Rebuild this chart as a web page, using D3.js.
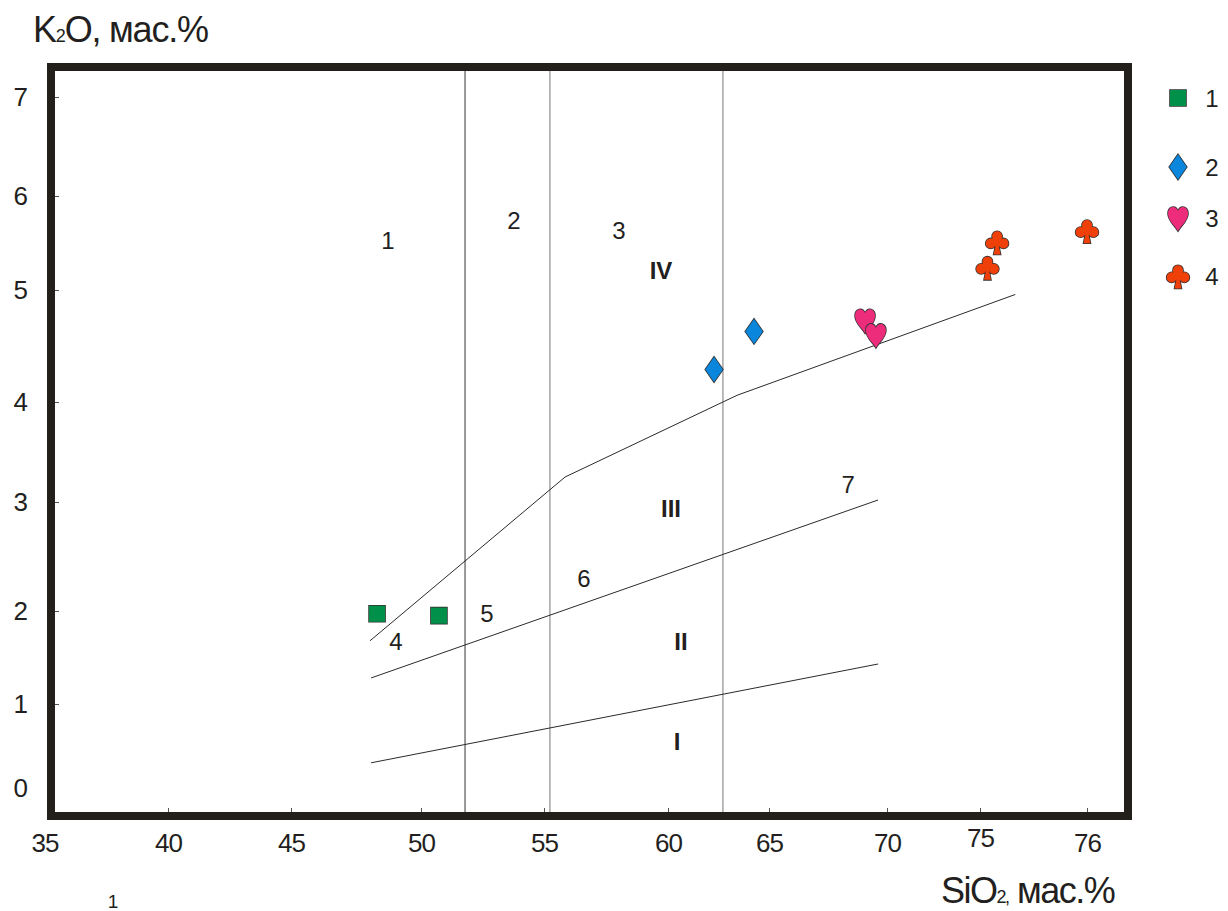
<!DOCTYPE html>
<html>
<head>
<meta charset="utf-8">
<script src="https://cdn.jsdelivr.net/npm/d3@7"></script>
<style>
  body { margin: 0; background: #fff; }
  text { font-family: "Liberation Sans Narrow", "Arial Narrow", "Liberation Sans", Arial, sans-serif; fill: #231f20; }
</style>
</head>
<body>
<div id="chart"></div>
<script>
// Axis ticks
const xTicks = [35, 40, 45, 50, 55, 60, 65, 70, 75, 76];
const yTicks = [0, 1, 2, 3, 4, 5, 6, 7];

// Samples (SiO2, K2O)
const seriesNames = ["1", "2", "3", "4"];
const squares = [[48.31, 1.97], [50.73, 1.95]];
const diamonds = [[62.28, 4.29], [64.26, 4.63]];
const hearts = [[69.07, 4.73], [69.53, 4.60]];
const clubs = [[75.07, 5.24], [75.16, 5.51], [76.0, 5.63]];

// Field boundaries
const verticals = [51.79, 55.24, 62.72];
const upperLine = [[48.04, 1.68], [55.85, 3.25], [63.42, 4.06], [75.33, 4.96]];
const middleLine = [[48.08, 1.28], [69.62, 3.02]];
const lowerLine = [[48.08, 0.30], [69.62, 1.43]];

// Field labels
const fieldNumbers = [["1", 48.73, 5.53], ["2", 53.78, 5.74], ["3", 58.02, 5.63],
  ["4", 49.04, 1.67], ["5", 52.68, 1.98], ["6", 56.61, 2.30], ["7", 68.35, 3.18]];
const fieldRoman = [["IV", 59.72, 5.21], ["III", 60.15, 2.94], ["II", 60.64, 1.67], ["I", 60.45, 0.55]];

const width = 1228, height = 911;
const frame = { left: 51, top: 67, right: 1128, bottom: 816, stroke: 8 };

const svg = d3.select("#chart")
  .append("svg")
  .attr("width", width)
  .attr("height", height);

// the printed axis is not evenly spaced, so use a piecewise scale
const x = d3.scaleLinear()
  .domain(xTicks)
  .range([44.5, 168, 291, 421, 544, 668, 769, 887, 980, 1087]);

const y = d3.scaleLinear()
  .domain(yTicks)
  .range([788, 704, 611, 502, 402, 290, 196, 97]);

const inTop = frame.top + frame.stroke / 2;
const inBottom = frame.bottom - frame.stroke / 2;

// vertical SiO2 boundaries
svg.selectAll(".vline")
  .data(verticals)
  .enter()
  .append("line")
  .attr("x1", d => x(d))
  .attr("x2", d => x(d))
  .attr("y1", inTop)
  .attr("y2", inBottom)
  .attr("stroke", (d, i) => i === 0 ? "#333" : "#777")
  .attr("stroke-width", 1);

// K2O series boundaries
const line = d3.line().x(d => x(d[0])).y(d => y(d[1]));
svg.selectAll(".bound")
  .data([upperLine, middleLine, lowerLine])
  .enter()
  .append("path")
  .attr("d", line)
  .attr("fill", "none")
  .attr("stroke", "#2a2a2a")
  .attr("stroke-width", 1);

// Axes with short inward ticks
const xAxis = svg.append("g")
  .attr("transform", `translate(0,${inBottom})`)
  .call(d3.axisBottom(x).tickValues(xTicks).tickSize(-4).tickFormat(d3.format("d")));
xAxis.select(".domain").remove();
xAxis.selectAll(".tick line").attr("stroke", "#555").filter(d => d === 35).remove();
xAxis.selectAll(".tick text")
  .attr("y", d => d === 75 ? 35 : 40)
  .attr("dy", null)
  .style("font-size", "26px")
  .style("letter-spacing", "-1px")
  .attr("fill", "#231f20");

const yAxis = svg.append("g")
  .attr("transform", `translate(${frame.left + frame.stroke / 2},0)`)
  .call(d3.axisLeft(y).tickValues(yTicks).tickSize(-4).tickFormat(d3.format("d")));
yAxis.select(".domain").remove();
yAxis.selectAll(".tick line").attr("stroke", "#555").filter(d => d === 0).remove();
yAxis.selectAll(".tick text")
  .attr("x", -27)
  .style("font-size", "26px")
  .attr("fill", "#231f20");

// Frame
svg.append("rect")
  .attr("x", frame.left)
  .attr("y", frame.top)
  .attr("width", frame.right - frame.left)
  .attr("height", frame.bottom - frame.top)
  .attr("fill", "none")
  .attr("stroke", "#231f1a")
  .attr("stroke-width", frame.stroke);

// Field labels
svg.selectAll(".fnum")
  .data(fieldNumbers)
  .enter()
  .append("text")
  .attr("x", d => x(d[1]))
  .attr("y", d => y(d[2]))
  .attr("dy", "0.36em")
  .attr("text-anchor", "middle")
  .style("font-size", "24px")
  .text(d => d[0]);

svg.selectAll(".from")
  .data(fieldRoman)
  .enter()
  .append("text")
  .attr("x", d => x(d[1]))
  .attr("y", d => y(d[2]))
  .attr("dy", "0.36em")
  .attr("text-anchor", "middle")
  .style("font-size", "24px")
  .style("font-weight", "bold")
  .text(d => d[0]);

// Custom marker shapes
const squareType = {
  draw(c, size) {
    const h = Math.sqrt(size) / 2;
    c.rect(-h, -h, 2 * h, 2 * h);
  }
};
const diamondType = {
  draw(c, size) {
    const h = Math.sqrt(size) / 2, w = h * 0.7;
    c.moveTo(0, -h); c.lineTo(w, 0); c.lineTo(0, h); c.lineTo(-w, 0); c.closePath();
  }
};
const heartType = {
  draw(c, size) {
    const sx = Math.sqrt(size) / 2, sy = sx * 1.3;
    c.moveTo(0, 1.0 * sy);
    c.bezierCurveTo(-0.3 * sx, 0.6 * sy, -1.0 * sx, 0.2 * sy, -1.0 * sx, -0.35 * sy);
    c.bezierCurveTo(-1.0 * sx, -0.85 * sy, -0.3 * sx, -1.05 * sy, 0, -0.55 * sy);
    c.bezierCurveTo(0.3 * sx, -1.05 * sy, 1.0 * sx, -0.85 * sy, 1.0 * sx, -0.35 * sy);
    c.bezierCurveTo(1.0 * sx, 0.2 * sy, 0.3 * sx, 0.6 * sy, 0, 1.0 * sy);
    c.closePath();
  }
};
const clubType = {
  draw(c, size) {
    const k = Math.sqrt(size) / 2, r = 0.44 * k;
    // three lobes plus a small hub in the middle
    [[0, -0.5 * k, r], [-0.55 * k, 0.12 * k, r], [0.55 * k, 0.12 * k, r], [0, 0, 0.25 * k]]
      .forEach(([cx, cy, rr]) => {
        c.moveTo(cx + rr, cy);
        c.arc(cx, cy, rr, 0, 2 * Math.PI);
      });
    // thin stem flaring at the base
    c.moveTo(0.08 * k, 0);
    c.lineTo(0.3 * k, 1.08 * k);
    c.lineTo(-0.3 * k, 1.08 * k);
    c.lineTo(-0.08 * k, 0);
    c.closePath();
  }
};

const groups = [
  { data: squares, type: squareType, size: 16 * 16, fill: "#00904a" },
  { data: diamonds, type: diamondType, size: 25 * 25, fill: "#0a87dc" },
  { data: hearts, type: heartType, size: 20 * 20, fill: "#ee2c7c" },
  { data: clubs, type: clubType, size: 23 * 23, fill: "#ee4008" }
];

function drawMarker(sel, g) {
  const sym = d3.symbol().type(g.type).size(g.size);
  // dark outline underneath, flat fill on top
  sel.append("path")
    .attr("d", sym)
    .attr("fill", "#333")
    .attr("stroke", "#333")
    .attr("stroke-width", 1.6);
  sel.append("path")
    .attr("d", sym)
    .attr("fill", g.fill);
}

groups.forEach(g => {
  svg.selectAll(null)
    .data(g.data)
    .enter()
    .append("g")
    .attr("transform", d => `translate(${x(d[0])},${y(d[1])})`)
    .each(function () { drawMarker(d3.select(this), g); });
});

// Legend
const legendY = [98, 167, 218, 276];
const legend = svg.selectAll(".legend")
  .data(groups)
  .enter()
  .append("g")
  .attr("transform", (d, i) => `translate(1178,${legendY[i]})`);
legend.each(function (g) { drawMarker(d3.select(this), g); });
legend.append("text")
  .attr("x", 34)
  .attr("dy", "0.36em")
  .attr("text-anchor", "middle")
  .style("font-size", "24px")
  .text((d, i) => seriesNames[i]);

// Axis titles
const yTitle = svg.append("text")
  .attr("x", 33)
  .attr("y", 42)
  .style("font-size", "36px")
  .style("letter-spacing", "-1.2px");
yTitle.append("tspan").text("K");
yTitle.append("tspan").style("font-size", "18px").text("2");
yTitle.append("tspan").text("O, мас.%");

const xTitle = svg.append("text")
  .attr("x", 941)
  .attr("y", 903)
  .style("font-size", "36px")
  .style("letter-spacing", "-1.5px");
xTitle.append("tspan").text("SiO");
xTitle.append("tspan").style("font-size", "18px").text("2,");
xTitle.append("tspan").text(" мас.%");

svg.append("text")
  .attr("x", 113)
  .attr("y", 908)
  .attr("text-anchor", "middle")
  .style("font-size", "19px")
  .text("1");
</script>
</body>
</html>
